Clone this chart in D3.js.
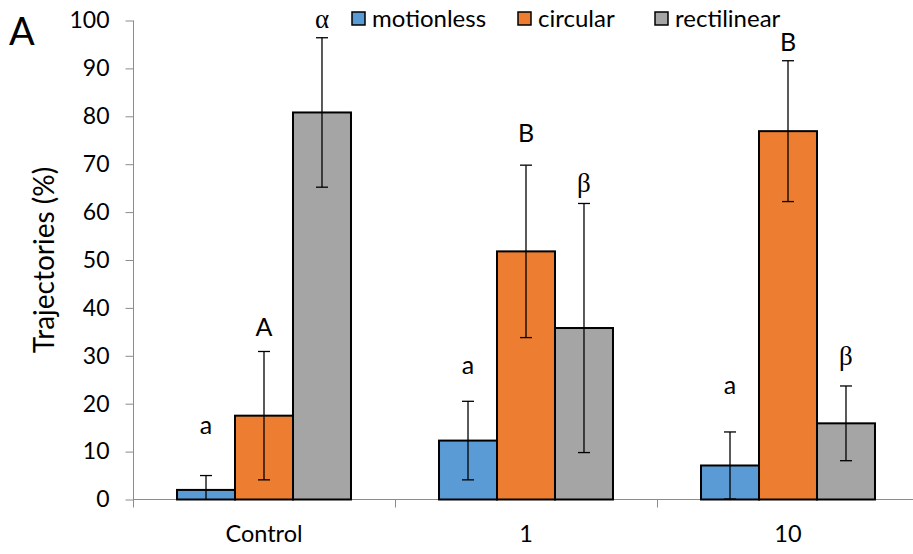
<!DOCTYPE html>
<html><head><meta charset="utf-8">
<script src="https://cdn.jsdelivr.net/npm/d3@7"></script>
<style>body{margin:0;background:#fff}svg{display:block}text{font-family:Lato,"Open Sans",sans-serif;fill:#000}</style>
</head><body><svg id="c" width="913" height="554"></svg>
<script>
const categories = ["Control", "1", "10"];
const series = ["motionless", "circular", "rectilinear"];
const colors = ["#5B9BD5", "#ED7D31", "#A5A5A5"];
const motionless = [2.0, 12.3, 7.1];
const circular = [17.5, 51.8, 76.9];
const rectilinear = [80.8, 35.8, 15.9];
const errMotionless = [3.0, 8.2, 7.0];
const errCircular = [13.4, 18.0, 14.7];
const errRectilinear = [15.6, 26.0, 7.8];
const lettersMotionless = ["a", "a", "a"];
const lettersCircular = ["A", "B", "B"];
const lettersRectilinear = ["α", "β", "β"];
const letterYMotionless = [15.5, 28.0, 23.8];
const letterYCircular = [35.9, 76.5, 95.5];
const letterYRectilinear = [100.4, 66.2, 30.1];
const yTicks = [0,10,20,30,40,50,60,70,80,90,100];

const values = [motionless, circular, rectilinear];
const errs = [errMotionless, errCircular, errRectilinear];
const letters = [lettersMotionless, lettersCircular, lettersRectilinear];
const letterY = [letterYMotionless, letterYCircular, letterYRectilinear];

const svg = d3.select("#c");
const x0 = 133, y0 = 499.5, yTop = 20.5;
const x = d3.scaleBand().domain(categories).range([x0, x0 + 3*262]).padding(0);
const xs = d3.scaleBand().domain(series).range([0, x.bandwidth()]).paddingInner(0).paddingOuter(0.759);
const y = d3.scaleLinear().domain([0, 100]).range([y0, yTop]);

// y axis
const yAxis = d3.axisLeft(y).tickValues(yTicks).tickSize(8).tickPadding(16);
const gy = svg.append("g").attr("transform", `translate(${x0 + 0.5},0)`).call(yAxis);
gy.select(".domain").attr("d", `M0,${yTop}V${y0 + 8}`).attr("stroke", "#8c8c8c");
gy.selectAll(".tick line").attr("stroke", "#8c8c8c");
gy.selectAll(".tick text").style("font-size", "23px").style("font-family", "Lato, sans-serif").attr("fill", "#000");

// x axis
const gx = svg.append("g").attr("transform", `translate(0,${y0})`);
gx.append("line").attr("x1", x0).attr("x2", 913).attr("stroke", "#8c8c8c");
gx.selectAll("line.t").data(categories.slice(1)).enter().append("line")
  .attr("x1", d => x(d) + 0.5).attr("x2", d => x(d) + 0.5).attr("y1", 0).attr("y2", 8).attr("stroke", "#8c8c8c");
gx.selectAll("text").data(categories).enter().append("text")
  .attr("x", d => x(d) + x.bandwidth()/2).attr("y", 42).attr("text-anchor", "middle")
  .style("font-size", "23.5px").text(d => d);

// bars
series.forEach((s, si) => {
  const g = svg.append("g");
  g.selectAll("rect").data(categories).enter().append("rect")
    .attr("x", c => x(c) + xs(s)).attr("width", xs.bandwidth())
    .attr("y", (c, i) => y(values[si][i])).attr("height", (c, i) => y0 - y(values[si][i]))
    .attr("fill", colors[si]).attr("stroke", "#000").attr("stroke-width", 2);
});
// error bars
series.forEach((s, si) => {
  categories.forEach((c, i) => {
    const cx = x(c) + xs(s) + xs.bandwidth()/2;
    const hi = values[si][i] + errs[si][i];
    const lo = values[si][i] - errs[si][i];
    const loC = Math.max(0, lo);
    svg.append("line").attr("x1", cx).attr("x2", cx).attr("y1", y(hi)).attr("y2", y(loC)).attr("stroke", "#000").attr("stroke-width", 1.3);
    svg.append("line").attr("x1", cx - 6).attr("x2", cx + 6).attr("y1", y(hi)).attr("y2", y(hi)).attr("stroke", "#000").attr("stroke-width", 1.3);
    if (lo >= 0) svg.append("line").attr("x1", cx - 6).attr("x2", cx + 6).attr("y1", y(lo)).attr("y2", y(lo)).attr("stroke", "#000").attr("stroke-width", 1.3);
    const greek = /[αβ]/.test(letters[si][i]);
    svg.append("text").attr("x", cx).attr("y", y(letterY[si][i])).attr("dy", "0.35em")
      .attr("text-anchor", "middle")
      .style("font-size", greek ? "27px" : "25px")
      .style("font-family", greek ? "'Liberation Serif', serif" : "Lato, sans-serif")
      .text(letters[si][i]);
  });
});

// legend
const legX = [352, 518, 655];
series.forEach((s, si) => {
  svg.append("rect").attr("x", legX[si]).attr("y", 12).attr("width", 13).attr("height", 13)
    .attr("fill", colors[si]).attr("stroke", "#000").attr("stroke-width", 1.5);
  svg.append("text").attr("x", legX[si] + 20).attr("y", 27).style("font-size", "24px").text(s);
});

// y label
svg.append("text").attr("transform", "translate(54,260) rotate(-90)").attr("text-anchor", "middle")
  .style("font-size", "28px").text("Trajectories (%)");
// panel label
svg.append("text").attr("x", 9).attr("y", 45).style("font-size", "38px").text("A");
</script></body></html>
